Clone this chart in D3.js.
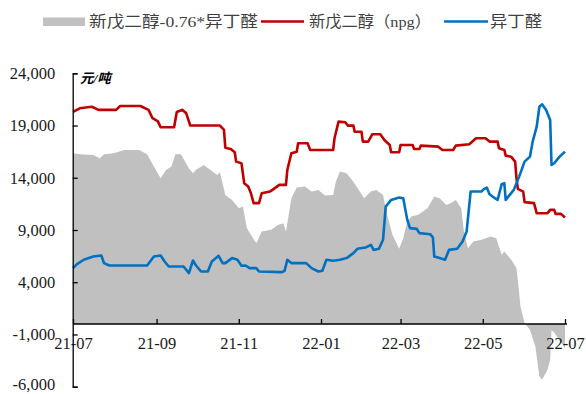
<!DOCTYPE html>
<html>
<head>
<meta charset="UTF-8">
<title>新戊二醇与异丁醛价差</title>
<style>
    body { margin: 0; background: #fff; }
    svg { display: block; }
    text { font-family: "Liberation Serif", "Noto Sans CJK SC", serif; }
</style>
</head>
<body>
<svg></svg>
<script src="https://d3js.org/d3.v7.min.js"></script>
<script>
    // 新戊二醇（npg）价格，元/吨
    const npg = [
        ["21-07-01", 20300], ["21-07-06", 20650], ["21-07-15", 20800], ["21-07-20", 20500],
        ["21-08-02", 20500], ["21-08-05", 20870], ["21-08-20", 20870], ["21-08-26", 20500],
        ["21-08-29", 19700], ["21-09-02", 19400], ["21-09-04", 18830], ["21-09-14", 18830],
        ["21-09-16", 20300], ["21-09-20", 20500], ["21-09-23", 20170], ["21-09-26", 19000],
        ["21-10-18", 19000], ["21-10-21", 18575], ["21-10-22", 16880], ["21-10-26", 16760],
        ["21-10-29", 16440], ["21-10-30", 15545], ["21-11-03", 15390], ["21-11-05", 13480],
        ["21-11-08", 13155], ["21-11-10", 12520], ["21-11-12", 11570], ["21-11-16", 11570],
        ["21-11-18", 12520], ["21-11-24", 12680], ["21-11-26", 12840], ["21-12-01", 13320],
        ["21-12-06", 13320], ["21-12-07", 14750], ["21-12-10", 16350], ["21-12-14", 16500],
        ["21-12-15", 17300], ["21-12-22", 17300], ["21-12-24", 16660], ["22-01-10", 16660],
        ["22-01-11", 17780], ["22-01-14", 19370], ["22-01-19", 19310], ["22-01-21", 18990],
        ["22-01-25", 18990], ["22-01-26", 18410], ["22-01-31", 18410], ["22-02-01", 17460],
        ["22-02-05", 17460], ["22-02-08", 18160], ["22-02-14", 18160], ["22-02-17", 17620],
        ["22-02-21", 17140], ["22-02-22", 16440], ["22-02-28", 16440], ["22-03-01", 17140],
        ["22-03-10", 17140], ["22-03-11", 16760], ["22-03-15", 16760], ["22-03-16", 17075],
        ["22-03-29", 16980], ["22-04-01", 16660], ["22-04-09", 16660], ["22-04-11", 17075],
        ["22-04-21", 17210], ["22-04-26", 17780], ["22-05-03", 17780], ["22-05-06", 17460],
        ["22-05-12", 17460], ["22-05-13", 16830], ["22-05-17", 16660], ["22-05-18", 16120],
        ["22-05-22", 16020], ["22-05-25", 15545], ["22-05-26", 13960], ["22-05-27", 12935],
        ["22-05-31", 12680], ["22-06-01", 11665], ["22-06-08", 11570], ["22-06-10", 10610],
        ["22-06-18", 10610], ["22-06-20", 10930], ["22-06-23", 10930], ["22-06-24", 10545],
        ["22-06-28", 10545], ["22-07-01", 10190]
    ];

    // 异丁醛价格，元/吨
    const iba = [
        ["21-07-01", 5350], ["21-07-04", 5740], ["21-07-09", 6150], ["21-07-16", 6460],
        ["21-07-22", 6560], ["21-07-24", 5830], ["21-07-28", 5600], ["21-08-25", 5600],
        ["21-08-30", 6460], ["21-09-04", 6560], ["21-09-07", 5985], ["21-09-10", 5510],
        ["21-09-21", 5510], ["21-09-25", 4875], ["21-09-28", 6080], ["21-09-30", 5650],
        ["21-10-04", 5030], ["21-10-09", 5030], ["21-10-12", 5985], ["21-10-17", 6530],
        ["21-10-20", 5830], ["21-10-22", 5830], ["21-10-27", 6310], ["21-10-31", 6150],
        ["21-11-03", 5575], ["21-11-06", 5600], ["21-11-09", 5350], ["21-11-14", 5350],
        ["21-11-16", 5030], ["21-12-03", 4970], ["21-12-05", 5095], ["21-12-07", 6150],
        ["21-12-10", 5830], ["21-12-21", 5830], ["21-12-25", 5350], ["21-12-30", 5030],
        ["22-01-02", 5095], ["22-01-05", 6150], ["22-01-10", 6050], ["22-01-15", 6150],
        ["22-01-20", 6310], ["22-01-25", 6790], ["22-01-28", 7200], ["22-02-03", 7320],
        ["22-02-07", 7580], ["22-02-09", 7100], ["22-02-13", 7200], ["22-02-16", 8060],
        ["22-02-18", 11240], ["22-02-22", 11880], ["22-02-28", 12100], ["22-03-03", 12045],
        ["22-03-06", 9970], ["22-03-08", 9180], ["22-03-13", 9110], ["22-03-15", 8700],
        ["22-03-23", 8600], ["22-03-25", 8280], ["22-03-26", 6460], ["22-03-30", 6310],
        ["22-04-03", 6150], ["22-04-06", 7100], ["22-04-12", 7200], ["22-04-16", 7900],
        ["22-04-19", 8850], ["22-04-22", 12680], ["22-04-30", 12680], ["22-05-02", 12935],
        ["22-05-04", 13060], ["22-05-06", 12430], ["22-05-10", 12045], ["22-05-12", 11880],
        ["22-05-15", 13380], ["22-05-17", 13480], ["22-05-18", 11880], ["22-05-21", 12360],
        ["22-05-24", 12840], ["22-05-28", 14110], ["22-06-01", 15545], ["22-06-05", 16020],
        ["22-06-07", 17460], ["22-06-10", 18890], ["22-06-12", 20800], ["22-06-14", 21030],
        ["22-06-17", 20490], ["22-06-20", 19530], ["22-06-21", 15230], ["22-06-23", 15390],
        ["22-06-27", 16020], ["22-07-01", 16500]
    ];

    // 新戊二醇-0.76*异丁醛
    const spread = [
        ["21-07-01", 16350], ["21-07-06", 16250], ["21-07-16", 16190], ["21-07-21", 15870],
        ["21-07-24", 16250], ["21-07-31", 16350], ["21-08-08", 16660], ["21-08-19", 16660],
        ["21-08-25", 16250], ["21-08-30", 15070], ["21-09-04", 13960], ["21-09-08", 14750],
        ["21-09-12", 15070], ["21-09-15", 16250], ["21-09-19", 16250], ["21-09-25", 14910],
        ["21-09-28", 14430], ["21-09-30", 14750], ["21-10-06", 15230], ["21-10-11", 14750],
        ["21-10-16", 14270], ["21-10-18", 14530], ["21-10-22", 12360], ["21-10-27", 11880],
        ["21-11-01", 11090], ["21-11-04", 11240], ["21-11-07", 9180], ["21-11-10", 8540],
        ["21-11-14", 7740], ["21-11-18", 8850], ["21-11-25", 9015], ["21-11-30", 9490],
        ["21-12-04", 9655], ["21-12-06", 8850], ["21-12-10", 12045], ["21-12-14", 13060],
        ["21-12-20", 13155], ["21-12-25", 12680], ["21-12-30", 12840], ["22-01-04", 12300],
        ["22-01-10", 12360], ["22-01-12", 13630], ["22-01-15", 14590], ["22-01-20", 14430],
        ["22-01-25", 13630], ["22-01-29", 12840], ["22-02-02", 12045], ["22-02-07", 12680],
        ["22-02-11", 12840], ["22-02-16", 12360], ["22-02-19", 10450], ["22-02-23", 8540],
        ["22-02-28", 7200], ["22-03-03", 8220], ["22-03-06", 9810], ["22-03-09", 10290],
        ["22-03-14", 10450], ["22-03-21", 11090], ["22-03-26", 12200], ["22-03-30", 12045],
        ["22-04-04", 11405], ["22-04-07", 11570], ["22-04-11", 11880], ["22-04-15", 11090],
        ["22-04-17", 8850], ["22-04-20", 7265], ["22-04-24", 7900], ["22-04-30", 8060],
        ["22-05-07", 8375], ["22-05-11", 8220], ["22-05-15", 6625], ["22-05-17", 6940],
        ["22-05-21", 6310], ["22-05-23", 5985], ["22-05-26", 5350], ["22-05-27", 4235],
        ["22-05-29", 1680], ["22-06-01", 95], ["22-06-05", -545], ["22-06-09", -2140],
        ["22-06-12", -5010], ["22-06-14", -5325], ["22-06-18", -4370], ["22-06-20", -3410],
        ["22-06-21", -600], ["22-06-23", -800], ["22-06-27", -1600], ["22-07-01", -2300]
    ];

    const yTicks = [24000, 19000, 14000, 9000, 4000, -1000, -6000];
    const xTicks = ["21-07-01", "21-09-01", "21-11-01", "22-01-01", "22-03-01", "22-05-01", "22-07-01"];
    const legendLabels = ["新戊二醇-0.76*异丁醛", "新戊二醇（npg）", "异丁醛"];
    const unitLabel = "元/吨";

    let width = 586, height = 394;
    const parse = d3.timeParse("%y-%m-%d");
    const fmt = d3.formatLocale({ decimal: ".", thousands: ",", grouping: [3], currency: ["", ""], minus: "-" }).format(",");

    let svg = d3.select("svg")
        .attr("width", width)
        .attr("height", height);

    let x = d3.scaleTime()
        .domain([parse("21-07-01"), parse("22-07-01")])
        .range([73, 565]);

    let y = d3.scaleLinear()
        .domain([-6000, 24000])
        .range([386.7, 73.3]);

    // gray spread area
    let area = d3.area()
        .x(d => x(parse(d[0])))
        .y0(y(0))
        .y1(d => y(d[1]));

    svg.append("path")
        .datum(spread)
        .attr("fill", "#c0c0c0")
        .attr("d", area);

    let line = d3.line()
        .x(d => x(parse(d[0])))
        .y(d => y(d[1]));

    svg.append("path")
        .datum(npg)
        .attr("fill", "none")
        .attr("stroke", "#c00000")
        .attr("stroke-width", 2.6)
        .attr("stroke-linejoin", "round")
        .attr("d", line);

    svg.append("path")
        .datum(iba)
        .attr("fill", "none")
        .attr("stroke", "#0070c0")
        .attr("stroke-width", 2.6)
        .attr("stroke-linejoin", "round")
        .attr("d", line);

    // axes
    let yAxis = svg.append("g")
        .attr("transform", "translate(72.7,0)")
        .call(d3.axisLeft(y)
            .tickValues(yTicks)
            .tickFormat(fmt)
            .tickSizeInner(-5)
            .tickSizeOuter(-5)
            .tickPadding(17.5));

    let xAxis = svg.append("g")
        .attr("transform", "translate(0," + y(0) + ")")
        .call(d3.axisBottom(x)
            .tickValues(xTicks.map(parse))
            .tickFormat(d3.timeFormat("%y-%m"))
            .tickSizeInner(-5)
            .tickSizeOuter(0)
            .tickPadding(13.5));

    svg.selectAll(".domain, .tick line")
        .attr("stroke", "#000")
        .attr("stroke-width", 1.3);

    svg.selectAll(".tick text")
        .attr("fill", "#1a1a1a")
        .style("font-size", "16.5px")
        .style("font-family", "'Liberation Serif', serif");

    // lowest label sits on the bottom edge, nudge it up a touch
    yAxis.selectAll(".tick text")
        .filter(d => d === -6000)
        .attr("dy", "0.15em");

    xAxis.select(".domain").attr("d", "M73,0H567");

    // unit
    svg.append("text")
        .attr("x", 80)
        .attr("y", 82.5)
        .attr("fill", "#000")
        .style("font-size", "13.5px")
        .style("font-style", "italic")
        .style("font-weight", "bold")
        .text(unitLabel);

    // legend
    let legend = svg.append("g").attr("class", "legend");

    legend.append("rect")
        .attr("x", 43).attr("y", 17.5)
        .attr("width", 42).attr("height", 8.5)
        .attr("fill", "#c0c0c0");

    legend.append("line")
        .attr("x1", 261).attr("x2", 304)
        .attr("y1", 21.5).attr("y2", 21.5)
        .attr("stroke", "#c00000").attr("stroke-width", 2.6);

    legend.append("line")
        .attr("x1", 444).attr("x2", 488)
        .attr("y1", 21.5).attr("y2", 21.5)
        .attr("stroke", "#0070c0").attr("stroke-width", 2.6);

    let legendPos = [[89, 169], [309, 122], [490, 52]];

    legend.selectAll("text")
        .data(legendLabels)
        .enter()
        .append("text")
        .attr("x", (d, i) => legendPos[i][0])
        .attr("y", 27)
        .attr("textLength", (d, i) => legendPos[i][1])
        .attr("lengthAdjust", "spacingAndGlyphs")
        .attr("fill", "#404040")
        .style("font-size", "15.5px")
        .text(d => d);
</script>
</body>
</html>
